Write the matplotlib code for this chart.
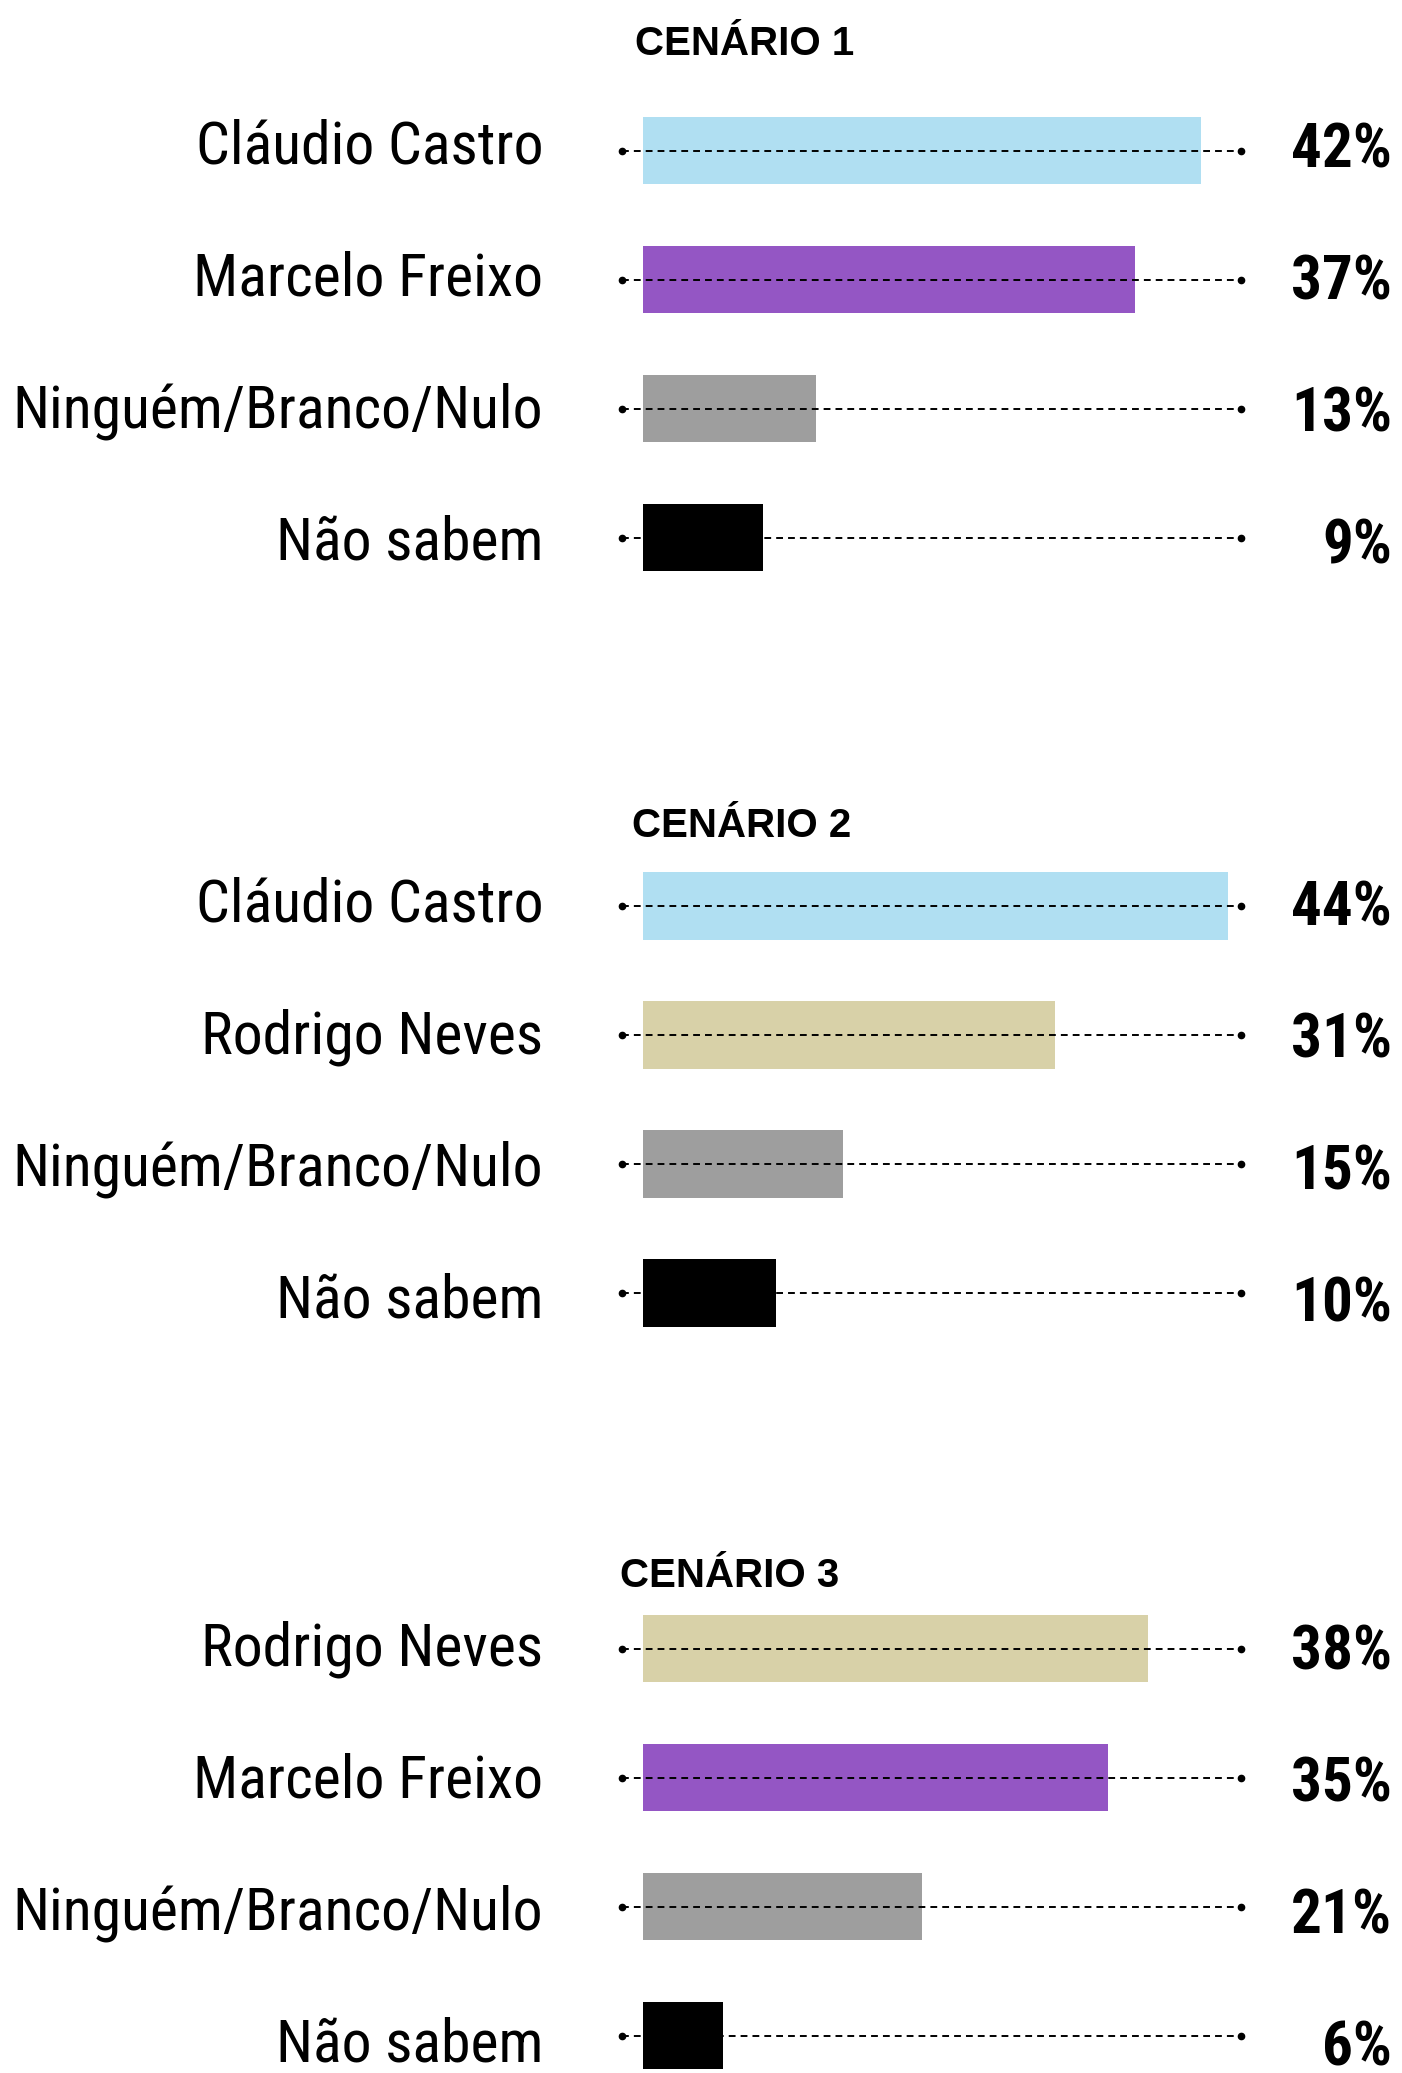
import matplotlib
matplotlib.use("Agg")
import matplotlib.pyplot as plt
from matplotlib import font_manager

# dados das pesquisas
cenarios = ["CENÁRIO 1", "CENÁRIO 2", "CENÁRIO 3"]
nomes_1 = ["Cláudio Castro", "Marcelo Freixo", "Ninguém/Branco/Nulo", "Não sabem"]
valores_1 = [42, 37, 13, 9]
nomes_2 = ["Cláudio Castro", "Rodrigo Neves", "Ninguém/Branco/Nulo", "Não sabem"]
valores_2 = [44, 31, 15, 10]
nomes_3 = ["Rodrigo Neves", "Marcelo Freixo", "Ninguém/Branco/Nulo", "Não sabem"]
valores_3 = [38, 35, 21, 6]

cores = {
    "Cláudio Castro": "#b0dff2",
    "Marcelo Freixo": "#9456c4",
    "Rodrigo Neves": "#d8d1a8",
    "Ninguém/Branco/Nulo": "#9e9e9e",
    "Não sabem": "#000000",
}


def pick_font(candidates):
    for name in candidates:
        try:
            font_manager.findfont(font_manager.FontProperties(family=name), fallback_to_default=False)
            return name
        except ValueError:
            pass
    return "DejaVu Sans"


fonte_narrow = pick_font(["Liberation Sans Narrow", "Roboto Condensed", "DejaVu Sans"])
fonte_titulo = pick_font(["Liberation Sans", "Roboto", "DejaVu Sans"])

W, H = 1402, 2073
fig = plt.figure(figsize=(W / 100, H / 100), dpi=100)

# layout em pixels (a partir do topo)
x_ini, x_fim = -1.6, 45.0
ax_left, ax_right = 622, 1241
passo_barra = 129.0
centro_barra0 = [150.5, 906, 1648.5]
passo_texto = 132.0
base_texto0 = [163, 921, 1666]
titulo_base = [55, 837, 1587]
titulo_x = [635, 632, 620]
rotulo_x, valor_x = 543, 1392


def fy(px):
    return 1 - px / H


for k, (nomes, valores) in enumerate([(nomes_1, valores_1), (nomes_2, valores_2), (nomes_3, valores_3)]):
    topo = centro_barra0[k] - passo_barra / 2
    altura = 4 * passo_barra
    ax = fig.add_axes([ax_left / W, fy(topo + altura), (ax_right - ax_left) / W, altura / H])
    ax.set_xlim(x_ini, x_fim)
    ax.set_ylim(3.5, -0.5)
    ax.axis("off")

    y = list(range(len(nomes)))
    ax.barh(y, valores, height=0.527, left=0, color=[cores[n] for n in nomes], zorder=1)
    for i in y:
        ax.plot([x_ini, x_fim], [i, i], color="black", lw=1.4, ls=(0, (3.5, 2.6)), zorder=3, clip_on=False)
        ax.plot([x_ini, x_fim], [i, i], "o", color="black", ms=4.5, zorder=4, clip_on=False)

    for i, (nome, v) in enumerate(zip(nomes, valores)):
        base = base_texto0[k] + i * passo_texto
        fig.text(rotulo_x / W, fy(base), nome, ha="right", va="baseline", fontsize=43,
                 family=fonte_narrow, fontstretch="condensed")
        fig.text(valor_x / W, fy(base + 4), f"{v}%", ha="right", va="baseline", fontsize=44,
                 fontweight="bold", family=fonte_narrow, fontstretch="condensed")

    fig.text(titulo_x[k] / W, fy(titulo_base[k]), cenarios[k], ha="left", va="baseline",
             fontsize=29, fontweight="bold", family=fonte_titulo)

fig.savefig("out.png", dpi=100, facecolor="white")
